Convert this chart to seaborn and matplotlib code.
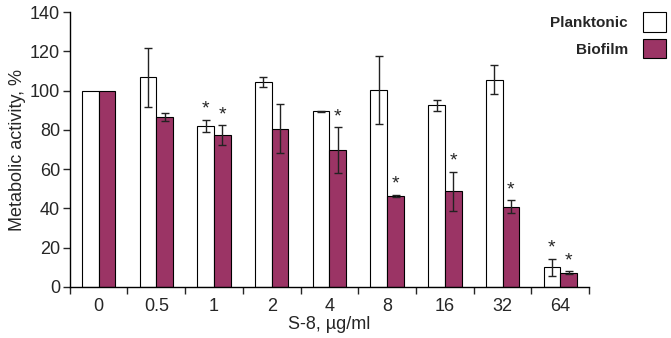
import numpy as np
import pandas as pd
import seaborn as sns
import matplotlib.pyplot as plt

conc = ['0', '0.5', '1', '2', '4', '8', '16', '32', '64']
plankt = [100, 106.8, 82.2, 104.5, 89.5, 100.4, 92.5, 105.6, 10.0]
plankt_err = [0, 15.0, 3.0, 2.5, 0.3, 17.5, 3.0, 7.5, 4.5]
biof = [100, 86.5, 77.5, 80.7, 69.8, 46.5, 48.8, 40.9, 7.3]
biof_err = [0, 2.0, 5.0, 12.3, 11.5, 0.6, 10.0, 3.3, 0.6]
plankt_star = [False, False, True, False, False, False, False, False, True]
biof_star = [False, False, True, False, True, True, True, True, True]

df = pd.DataFrame({
    'conc': conc * 2,
    'val': plankt + biof,
    'grp': ['Planktonic'] * len(conc) + ['Biofilm'] * len(conc),
})

sns.set_style('white')
plt.rcParams['font.family'] = ['Liberation Sans', 'DejaVu Sans']

fig = plt.figure(figsize=(6.71, 3.38), dpi=100)
ax = fig.add_axes([0.104, 0.151, 0.774, 0.813])

sns.barplot(data=df, x='conc', y='val', hue='grp', ax=ax,
            palette=['white', '#9b3465'], saturation=1,
            edgecolor='black', linewidth=0.8,
            width=0.58, gap=0, errorbar=None)

# error bars and significance marks, placed on the drawn bars
bars = [p for p in ax.patches if p.get_width() > 0][:2 * len(conc)]
bars = sorted(bars, key=lambda p: p.get_x())
vals = []
for i in range(len(conc)):
    vals.append((plankt[i], plankt_err[i], plankt_star[i]))
    vals.append((biof[i], biof_err[i], biof_star[i]))
for p, (v, e, s) in zip(bars, vals):
    cx = p.get_x() + p.get_width() / 2
    if e > 0:
        ax.errorbar(cx, v, yerr=e, color='#222222', lw=1, capsize=3, capthick=1)
    if s:
        ax.text(cx, v + e + 1, '*', ha='center', va='bottom', fontsize=14)

ax.set_xlim(-0.5, 8.5)
ax.set_ylim(0, 140)
ax.set_yticks(range(0, 141, 20))
ax.set_xticks(np.arange(-0.5, 9, 1), minor=True)
ax.tick_params(axis='x', which='major', length=0, labelsize=13, pad=8)
ax.tick_params(axis='x', which='minor', length=5, width=1, direction='out', bottom=True)
ax.tick_params(axis='y', length=5, width=1, direction='out', left=True, labelsize=13, pad=2)
sns.despine(ax=ax)
for sp in ['left', 'bottom']:
    ax.spines[sp].set_color('black')
    ax.spines[sp].set_linewidth(1)

ax.set_xlabel('S-8, µg/ml', fontsize=13, labelpad=1)
ax.set_ylabel('Metabolic activity, %', fontsize=13, labelpad=3)

ax.legend(loc='upper right', bbox_to_anchor=(1.175, 1.05), frameon=False,
          markerfirst=False, prop={'weight': 'bold', 'size': 11},
          handlelength=1.5, handleheight=1.6, labelspacing=0.45, handletextpad=1.0)

fig.savefig('out.png', dpi=100)
